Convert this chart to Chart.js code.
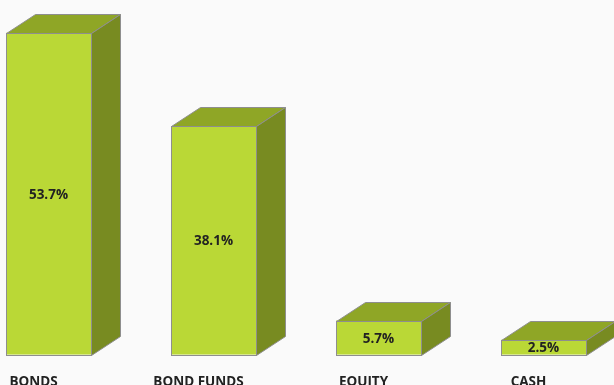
<!DOCTYPE html>
<html>
<head>
<meta charset="utf-8">
<script src="https://cdn.jsdelivr.net/npm/chart.js@4.4.0/dist/chart.umd.min.js"></script>
<style>
  html, body { margin: 0; padding: 0; background: #fafafa; overflow: hidden; width: 614px; height: 385px; }
  #wrap { position: absolute; left: -34px; top: 0; width: 680px; height: 409px; }
</style>
</head>
<body>
<div id="wrap"><canvas id="myChart" width="680" height="409"></canvas></div>
<script>
// data
var categories = ['BONDS', 'BOND FUNDS', 'EQUITY', 'CASH'];
var shares = [53.7, 38.1, 5.7, 2.5];

var frontColor = 'rgb(186, 216, 54)';
var topColor = 'rgb(143, 166, 38)';
var sideColor = 'rgb(120, 139, 33)';
var edgeColor = '#8e8e8e';
var depthX = 29, depthY = -19;

// draws top + side faces and the value in the middle of the front face
const box3d = {
  id: 'box3d',
  afterDatasetsDraw(chart) {
    const ctx = chart.ctx;
    const meta = chart.getDatasetMeta(0);
    ctx.save();
    ctx.lineWidth = 1;
    ctx.strokeStyle = edgeColor;
    meta.data.forEach(function (bar, i) {
      const half = bar.width / 2;
      const l = Math.round(bar.x - half) + 0.5;
      const r = Math.round(bar.x + half) + 0.5;
      const t = Math.round(bar.y) + 0.5;
      const b = Math.round(bar.base) + 0.5;

      // top face
      ctx.beginPath();
      ctx.moveTo(l, t);
      ctx.lineTo(l + depthX, t + depthY);
      ctx.lineTo(r + depthX, t + depthY);
      ctx.lineTo(r, t);
      ctx.closePath();
      ctx.fillStyle = topColor;
      ctx.fill();
      ctx.stroke();

      // side face
      ctx.beginPath();
      ctx.moveTo(r, t);
      ctx.lineTo(r + depthX, t + depthY);
      ctx.lineTo(r + depthX, b + depthY);
      ctx.lineTo(r, b);
      ctx.closePath();
      ctx.fillStyle = sideColor;
      ctx.fill();
      ctx.stroke();

      // front outline
      ctx.strokeRect(l, t, r - l, b - t);

      ctx.fillStyle = '#222';
      ctx.font = 'bold 13.5px "Open Sans"';
      ctx.textAlign = 'center';
      ctx.textBaseline = 'middle';
      ctx.fillText(shares[i].toFixed(1) + '%', bar.x, (bar.y + bar.base) / 2 + 1);
    });
    ctx.restore();
  }
};

const ctx2 = document.getElementById('myChart');

const myChart = new Chart(ctx2, {
  type: 'bar',
  data: {
    labels: categories,
    datasets: [{
      data: shares,
      backgroundColor: frontColor,
      borderWidth: 0,
      barPercentage: 0.515,
      categoryPercentage: 1
    }]
  },
  options: {
    responsive: false,
    animation: false,
    devicePixelRatio: 1,
    layout: { padding: { left: 0, right: 20, top: 13, bottom: 0 } },
    plugins: {
      legend: { display: false },
      tooltip: { enabled: false }
    },
    scales: {
      x: {
        grid: { display: false, drawTicks: false },
        border: { display: false },
        ticks: {
          color: '#222',
          padding: 19,
          labelOffset: -15,
          maxRotation: 0,
          font: { family: 'Open Sans', size: 13.5, weight: 'bold', lineHeight: 1.2 }
        }
      },
      y: {
        display: false,
        min: 0,
        max: 57
      }
    }
  },
  plugins: [box3d]
});
</script>
</body>
</html>
